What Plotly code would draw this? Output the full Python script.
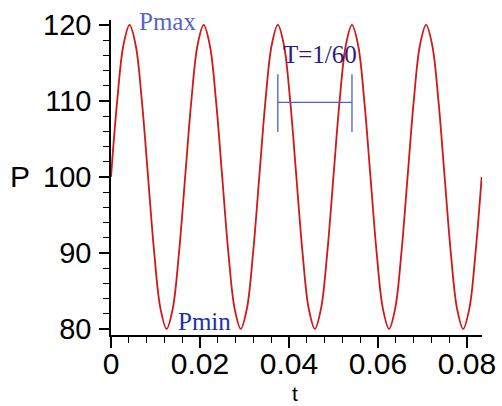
import plotly.graph_objects as go

t_vals = [0, 0.00139, 0.00278, 0.00417, 0.00556, 0.00694, 0.00833, 0.00972, 0.01111, 0.0125,
          0.01389, 0.01528, 0.01667, 0.01806, 0.01944, 0.02083, 0.02222, 0.02361, 0.025, 0.02639,
          0.02778, 0.02917, 0.03056, 0.03194, 0.03333, 0.03472, 0.03611, 0.0375, 0.03889, 0.04028,
          0.04167, 0.04306, 0.04444, 0.04583, 0.04722, 0.04861, 0.05, 0.05139, 0.05278, 0.05417,
          0.05556, 0.05694, 0.05833, 0.05972, 0.06111, 0.0625, 0.06389, 0.06528, 0.06667, 0.06806,
          0.06944, 0.07083, 0.07222, 0.07361, 0.075, 0.07639, 0.07778, 0.07917, 0.08056, 0.08194,
          0.08333]
p_vals = [100, 110, 117.3, 120, 117.3, 110, 100, 90, 82.7, 80, 82.7, 90,
          100, 110, 117.3, 120, 117.3, 110, 100, 90, 82.7, 80, 82.7, 90,
          100, 110, 117.3, 120, 117.3, 110, 100, 90, 82.7, 80, 82.7, 90,
          100, 110, 117.3, 120, 117.3, 110, 100, 90, 82.7, 80, 82.7, 90,
          100, 110, 117.3, 120, 117.3, 110, 100, 90, 82.7, 80, 82.7, 90,
          100]

x_ticks = [0, 0.02, 0.04, 0.06, 0.08]
x_tick_labels = ["0", "0.02", "0.04", "0.06", "0.08"]
y_ticks = [80, 90, 100, 110, 120]
y_tick_labels = ["80", "90", "100", "110", "120"]

# period marker (data coords)
period_t = [0.0375, 0.05417]
period_p_low = 105.9
period_p_high = 113.5
period_arrow_p = 109.8

labels_text = ["Pmax", "Pmin", "T=1/60"]
labels_t = [0.0128, 0.0211, 0.047]
labels_p = [120.4, 81.0, 116.1]
labels_color = ["#5566cc", "#1f2fb0", "#2e1a80"]

fig = go.Figure()
fig.add_trace(go.Scatter(x=t_vals, y=p_vals, mode="lines",
                         line=dict(color="#d01818", width=1.8, shape="spline", smoothing=1.0),
                         hoverinfo="skip", showlegend=False))

line_col = "#4d5fd0"
for tt in period_t:
    fig.add_shape(type="line", x0=tt, x1=tt, y0=period_p_low, y1=period_p_high,
                  line=dict(color=line_col, width=1.3))
fig.add_shape(type="line", x0=period_t[0], x1=period_t[1], y0=period_arrow_p, y1=period_arrow_p,
              line=dict(color=line_col, width=1.3))

for txt, tt, pp, col in zip(labels_text, labels_t, labels_p, labels_color):
    fig.add_annotation(x=tt, y=pp, text=txt, showarrow=False, xref="x", yref="y",
                       xanchor="center", yanchor="middle",
                       font=dict(family="Liberation Serif", size=25, color=col))

fig.add_annotation(x=-0.245, y=100, xref="paper", yref="y", text="P", showarrow=False,
                   xanchor="center", yanchor="middle",
                   font=dict(family="Liberation Sans", size=30, color="black"))
fig.add_annotation(x=0.495, y=-0.186, xref="paper", yref="paper", text="t", showarrow=False,
                   xanchor="center", yanchor="middle",
                   font=dict(family="Liberation Sans", size=21, color="black"))

fig.update_layout(
    width=502, height=406,
    margin=dict(l=111, r=20, t=20, b=71),
    paper_bgcolor="white", plot_bgcolor="white",
    xaxis=dict(range=[0, 0.0834], showgrid=False, zeroline=False, showline=True, automargin=False,
               linecolor="black", linewidth=1.5, ticks="outside", ticklen=11, tickwidth=1.5,
               tickcolor="black", tickvals=x_ticks, ticktext=x_tick_labels, ticklabelstandoff=-10,
               tickfont=dict(family="Liberation Sans", size=30, color="black"),
               minor=dict(ticks="outside", ticklen=6, tickwidth=1.3, tickcolor="black", dtick=0.004, tick0=0)),
    yaxis=dict(range=[79.2, 120.65], showgrid=False, zeroline=False, showline=True, automargin=False,
               linecolor="black", linewidth=1.5, ticks="outside", ticklen=10, tickwidth=1.5,
               tickcolor="black", tickvals=y_ticks, ticktext=y_tick_labels, ticklabelstandoff=2,
               tickfont=dict(family="Liberation Sans", size=29, color="black"),
               minor=dict(ticks="outside", ticklen=6, tickwidth=1.3, tickcolor="black", dtick=2, tick0=80)),
)

fig.write_html("out.html", config={"displayModeBar": False},
               post_script="document.body.style.margin='0';document.body.style.overflow='hidden';")
